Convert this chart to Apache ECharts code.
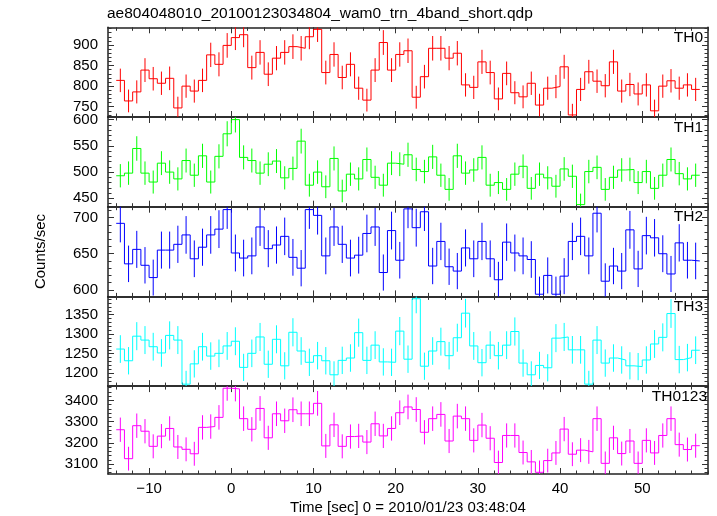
<!DOCTYPE html>
<html><head><meta charset="utf-8">
<script src="https://cdn.jsdelivr.net/npm/echarts@6/dist/echarts.min.js"></script>
<style>html,body{margin:0;padding:0;background:#fff}#c{width:717px;height:516px}</style>
</head><body><div id="c"></div>
<script>
const titleText = 'ae804048010_20100123034804_wam0_trn_4band_short.qdp';
const xTitle = 'Time [sec] 0 = 2010/01/23 03:48:04';
const yTitle = 'Counts/sec';
const panelNames = ['TH0', 'TH1', 'TH2', 'TH3', 'TH0123'];
const panelColors = ['#ff0000', '#00ff00', '#0000ff', '#00ffff', '#ff00ff'];

// time bins (sec): first bin starts at binStart, each binWidth wide
const binStart = -14;
const binWidth = 1;

const th0 = [814,764,786,839,818,807,819,747,800,788,814,876,853,899,918,925,845,882,829,868,
  882,896,892,920,938,833,877,821,853,795,766,839,906,839,877,886,773,823,892,892,
  868,880,803,797,859,833,769,831,784,774,807,754,795,799,847,730,792,835,812,801,
  859,788,804,781,803,740,800,813,795,803,792];
const th1 = [493,498,545,498,481,517,500,487,522,494,531,481,530,573,600,528,522,498,515,521,
  489,507,559,475,500,472,526,464,496,487,524,490,475,517,515,533,505,501,529,494,
  467,531,498,504,528,475,480,467,496,511,469,496,489,473,506,492,438,501,509,467,
  490,504,505,480,501,469,494,524,497,487,494];
const th2 = [692,636,656,634,617,655,655,663,676,643,659,676,684,711,651,644,647,687,657,662,
  674,645,630,711,703,647,687,663,644,648,678,687,624,682,641,712,686,708,633,667,
  632,626,658,643,667,643,614,666,651,647,642,594,620,594,619,667,674,647,706,612,
  633,626,683,629,675,672,650,622,665,641,640];
const th3 = [1262,1232,1295,1285,1268,1252,1297,1285,1172,1224,1268,1244,1251,1270,1282,1215,1251,1293,1223,1287,
  1219,1305,1257,1228,1245,1232,1196,1233,1239,1304,1233,1272,1229,1228,1308,1236,1391,1218,1257,1281,
  1245,1291,1354,1270,1227,1272,1245,1272,1307,1226,1196,1220,1214,1290,1293,1260,1260,1172,1285,1226,
  1239,1234,1219,1217,1234,1275,1292,1353,1235,1240,1259];
const th0123 = [3262,3126,3281,3255,3184,3232,3268,3181,3170,3149,3273,3277,3320,3457,3454,3314,3264,3362,3224,3337,
  3304,3356,3337,3337,3386,3186,3285,3184,3230,3233,3204,3290,3233,3268,3342,3369,3357,3250,3314,3334,
  3209,3326,3314,3212,3284,3222,3108,3235,3235,3155,3111,3062,3117,3153,3265,3147,3166,3158,3314,3104,
  3224,3150,3209,3104,3212,3153,3235,3314,3192,3169,3187];
const panelData = [th0, th1, th2, th3, th0123];

// axes
const xRange = [-15, 58];
const xMajorTicks = [-10, 0, 10, 20, 30, 40, 50];
const xMinorTicks = [-14,-12,-10,-8,-6,-4,-2,0,2,4,6,8,10,12,14,16,18,20,22,24,26,28,30,32,34,36,38,40,42,44,46,48,50,52,54,56,58];
const yRanges = [[725, 943], [434, 605], [591, 715], [1167, 1397], [3054, 3467]];
const yMajorTicks = [[750, 800, 850, 900], [450, 500, 550, 600], [600, 650, 700], [1200, 1250, 1300, 1350], [3100, 3200, 3300, 3400]];
const yMinorStep = [10, 10, 10, 10, 20];

const FONT = 'Liberation Sans, Arial, Helvetica, sans-serif';
const gridTop0 = 27.3, gridH = 89.7, gridLeft = 108, gridRight = 9;

function minorList(range, step) {
  const out = [];
  for (let v = Math.ceil(range[0] / step) * step; v <= range[1]; v += step) out.push(v);
  return out;
}
function fmtX(v) { return v < 0 ? '\u2212' + Math.abs(v) : String(v); }
function fmtY(v) { return String(v); }

const grids = [], xAxes = [], yAxes = [], series = [], graphics = [];
panelData.forEach((vals, i) => {
  grids.push({ left: gridLeft, right: gridRight, top: gridTop0 + i * gridH, height: gridH });
  const last = i === panelData.length - 1;
  const mkX = (pos, ticks, len, major) => ({
    type: 'value', gridIndex: i, position: pos, min: xRange[0], max: xRange[1],
    axisLine: { show: major, onZero: false, lineStyle: { color: '#222', width: 1.5 } },
    axisTick: { show: true, inside: true, length: len, customValues: ticks, lineStyle: { color: '#333', width: 1 } },
    axisLabel: { show: major && last && pos === 'bottom', customValues: ticks, formatter: fmtX,
      fontFamily: FONT, fontSize: 15, color: '#000', margin: 7 },
    splitLine: { show: false },
    name: (major && last && pos === 'bottom') ? xTitle : '',
    nameLocation: 'middle', nameGap: 26,
    nameTextStyle: { fontFamily: FONT, fontSize: 15, color: '#000' }
  });
  xAxes.push(mkX('bottom', xMajorTicks, 6, true));
  xAxes.push(mkX('bottom', xMinorTicks, 3.5, false));
  xAxes.push(mkX('top', xMajorTicks, 6, true));
  xAxes.push(mkX('top', xMinorTicks, 3.5, false));
  const yr = yRanges[i];
  const yMinor = minorList(yr, yMinorStep[i]);
  const mkY = (pos, ticks, len, major) => ({
    type: 'value', gridIndex: i, position: pos, min: yr[0], max: yr[1],
    axisLine: { show: major, onZero: false, lineStyle: { color: '#222', width: 1.5 } },
    axisTick: { show: true, inside: true, length: len, customValues: ticks, lineStyle: { color: '#333', width: 1 } },
    axisLabel: { show: major && pos === 'left', customValues: ticks, formatter: fmtY,
      fontFamily: FONT, fontSize: 15, color: '#000', margin: 10 },
    splitLine: { show: false },
    name: (major && pos === 'left' && i === 2) ? yTitle : '',
    nameLocation: 'middle', nameGap: 60, nameRotate: 90,
    nameTextStyle: { fontFamily: FONT, fontSize: 15, color: '#000' }
  });
  yAxes.push(mkY('left', yMajorTicks[i], 6, true));
  yAxes.push(mkY('left', yMinor, 3.5, false));
  yAxes.push(mkY('right', yMajorTicks[i], 6, true));
  yAxes.push(mkY('right', yMinor, 3.5, false));

  const step = [];
  const errs = [];
  vals.forEach((v, k) => {
    const l = binStart + k * binWidth, r = l + binWidth, c = l + binWidth / 2;
    step.push([l, v], [r, v]);
    const e = Math.sqrt(v * binWidth) / binWidth; // Poisson error of the rate
    errs.push([c, v - e, v + e]);
  });
  const color = panelColors[i];
  series.push({
    type: 'line', xAxisIndex: 4 * i, yAxisIndex: 4 * i, data: step,
    showSymbol: false, symbol: 'none', clip: true,
    lineStyle: { color: color, width: 1 }, itemStyle: { color: color }, z: 3
  });
  series.push({
    type: 'custom', xAxisIndex: 4 * i, yAxisIndex: 4 * i, data: errs, clip: true,
    encode: { x: 0, y: [1, 2] },
    renderItem: (params, api) => {
      const p1 = api.coord([api.value(0), api.value(1)]);
      const p2 = api.coord([api.value(0), api.value(2)]);
      return { type: 'line', shape: { x1: p1[0], y1: p1[1], x2: p2[0], y2: p2[1] },
        style: { stroke: color, lineWidth: 1 } };
    }, z: 3
  });
  graphics.push({
    type: 'text', right: gridRight + (last ? 1 : 5), top: gridTop0 + i * gridH + 2.5,
    style: { text: panelNames[i], font: '15.5px ' + FONT, fill: '#000' }, z: 10
  });
});

graphics.push({
  type: 'text', left: 107, top: 6,
  style: { text: titleText, font: '15.5px ' + FONT, fill: '#000' }
});

const chart = echarts.init(document.getElementById('c'), null, { renderer: 'canvas' });
chart.setOption({
  animation: false,
  backgroundColor: '#fff',
  grid: grids, xAxis: xAxes, yAxis: yAxes, series: series, graphic: graphics
});
</script></body></html>
